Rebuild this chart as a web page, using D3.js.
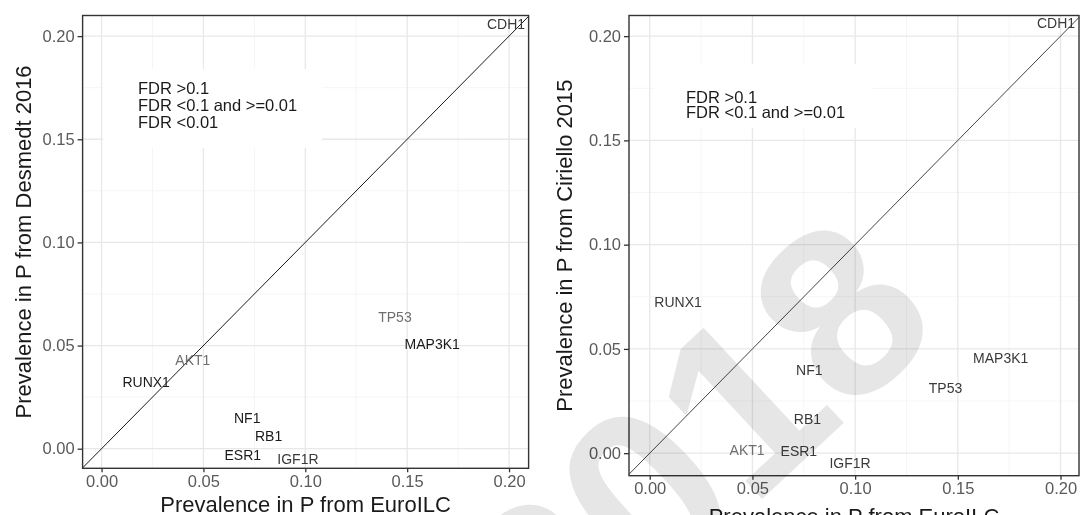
<!DOCTYPE html>
<html>
<head>
<meta charset="utf-8">
<script src="https://cdn.jsdelivr.net/npm/d3@7"></script>
<style>
  body { margin: 0; background: #fff; }
  svg { display: block; font-family: "Liberation Sans", Arial, sans-serif; }
</style>
</head>
<body>
<div id="wrapper"></div>
<script>
// gene labels, prevalence in P from EuroILC (x) vs. other cohorts (y)
const genes = ["CDH1", "TP53", "MAP3K1", "AKT1", "RUNX1", "NF1", "RB1", "ESR1", "IGF1R"]

const euroX_desmedt = [0.1985, 0.144, 0.1623, 0.0448, 0.0219, 0.0715, 0.082, 0.0693, 0.0964]
const desmedtY = [0.2059, 0.064, 0.0509, 0.0431, 0.0325, 0.0147, 0.006, -0.0029, -0.005]
const desmedtFdr = ["mid", "high", "low", "high", "low", "low", "low", "low", "mid"]

const euroX_ciriello = [0.1978, 0.144, 0.1709, 0.0474, 0.0138, 0.0777, 0.0768, 0.0726, 0.0975]
const cirielloY = [0.2062, 0.0311, 0.0455, 0.0016, 0.0725, 0.0397, 0.0162, 0.0012, -0.0047]
const cirielloFdr = ["mid", "mid", "mid", "high", "mid", "mid", "mid", "mid", "mid"]

const tickValues = [0, 0.05, 0.10, 0.15, 0.20]
const minorValues = [0.025, 0.075, 0.125, 0.175]

const legendDesmedt = ["FDR >0.1", "FDR <0.1 and >=0.01", "FDR <0.01"]
const legendCiriello = ["FDR >0.1", "FDR <0.1 and >=0.01"]

const xTitle = "Prevalence in P from EuroILC"
const yTitleDesmedt = "Prevalence in P from Desmedt 2016"
const yTitleCiriello = "Prevalence in P from Ciriello 2015"

const fdrColor = { high: "#6e6e6e", mid: "#3a3a3a", low: "#1a1a1a" }

const width = 1081
const height = 515

const svg = d3.select("#wrapper")
    .append("svg")
        .attr("width", width)
        .attr("height", height)

svg.append("rect")
    .attr("width", width)
    .attr("height", height)
    .attr("fill", "#fff")

function drawPanel(cfg) {
    const x = d3.scaleLinear().domain(cfg.xDomain).range([cfg.left, cfg.right])
    const y = d3.scaleLinear().domain(cfg.yDomain).range([cfg.bottom, cfg.top])

    const g = svg.append("g")

    // grid
    g.selectAll(".minx").data(minorValues).join("line")
        .attr("x1", d => x(d)).attr("x2", d => x(d))
        .attr("y1", cfg.top).attr("y2", cfg.bottom)
        .attr("stroke", "#f3f3f3").attr("stroke-width", 0.8)
    g.selectAll(".miny").data(minorValues).join("line")
        .attr("y1", d => y(d)).attr("y2", d => y(d))
        .attr("x1", cfg.left).attr("x2", cfg.right)
        .attr("stroke", "#f3f3f3").attr("stroke-width", 0.8)
    g.selectAll(".majx").data(tickValues).join("line")
        .attr("x1", d => x(d)).attr("x2", d => x(d))
        .attr("y1", cfg.top).attr("y2", cfg.bottom)
        .attr("stroke", "#e8e8e8").attr("stroke-width", 1.3)
    g.selectAll(".majy").data(tickValues).join("line")
        .attr("y1", d => y(d)).attr("y2", d => y(d))
        .attr("x1", cfg.left).attr("x2", cfg.right)
        .attr("stroke", "#e8e8e8").attr("stroke-width", 1.3)

    // legend box (keys are blank, only text shows)
    g.append("rect")
        .attr("x", cfg.legend.x).attr("y", cfg.legend.y)
        .attr("width", cfg.legend.w).attr("height", cfg.legend.h)
        .attr("fill", "#fff")
    g.selectAll(".leg").data(cfg.legendText).join("text")
        .attr("x", cfg.legend.tx)
        .attr("y", (d, i) => cfg.legend.ty + i * cfg.legend.step)
        .attr("dy", "0.35em")
        .attr("font-size", 16.5)
        .attr("fill", "#1a1a1a")
        .text(d => d)

    // y = x reference line
    const lo = Math.max(cfg.xDomain[0], cfg.yDomain[0])
    const hi = Math.min(cfg.xDomain[1], cfg.yDomain[1])
    g.append("line")
        .attr("x1", x(lo)).attr("y1", y(lo))
        .attr("x2", x(hi)).attr("y2", y(hi))
        .attr("stroke", cfg.lineColor).attr("stroke-width", 1)

    // gene labels
    g.selectAll(".gene").data(genes).join("text")
        .attr("x", (d, i) => x(cfg.xs[i]))
        .attr("y", (d, i) => y(cfg.ys[i]))
        .attr("dy", "0.35em")
        .attr("text-anchor", "middle")
        .attr("font-size", 14)
        .attr("fill", (d, i) => fdrColor[cfg.fdr[i]])
        .text(d => d)

    // border
    g.append("rect")
        .attr("x", cfg.left).attr("y", cfg.top)
        .attr("width", cfg.right - cfg.left).attr("height", cfg.bottom - cfg.top)
        .attr("fill", "none").attr("stroke", "#333").attr("stroke-width", 1.4)

    // axes
    const xAxis = g.append("g")
        .attr("transform", `translate(0,${cfg.bottom})`)
        .call(d3.axisBottom(x).tickValues(tickValues).tickFormat(d3.format(".2f"))
            .tickSizeOuter(0).tickSize(4).tickPadding(3))
    const yAxis = g.append("g")
        .attr("transform", `translate(${cfg.left},0)`)
        .call(d3.axisLeft(y).tickValues(tickValues).tickFormat(d3.format(".2f"))
            .tickSizeOuter(0).tickSize(5).tickPadding(3))
    for (const ax of [xAxis, yAxis]) {
        ax.select(".domain").remove()
        ax.selectAll(".tick line").attr("stroke", "#333").attr("stroke-width", 1.3)
        ax.selectAll(".tick text")
            .attr("fill", "#5a5a5a")
            .style("font-family", "'Liberation Sans', Arial, sans-serif")
            .style("font-size", "16.5px")
    }

    // titles
    g.append("text")
        .attr("x", (cfg.left + cfg.right) / 2)
        .attr("y", cfg.xTitleY)
        .attr("text-anchor", "middle")
        .attr("font-size", 22)
        .attr("fill", "#1a1a1a")
        .text(xTitle)
    g.append("text")
        .attr("transform", `translate(${cfg.yTitleX},${(cfg.top + cfg.bottom) / 2}) rotate(-90)`)
        .attr("text-anchor", "middle")
        .attr("font-size", 22)
        .attr("fill", "#1a1a1a")
        .text(cfg.yTitle)
}

drawPanel({
    left: 82.6, right: 528.6, top: 15.5, bottom: 468.3,
    xDomain: [-0.0093, 0.2096], yDomain: [-0.0095, 0.21],
    xs: euroX_desmedt, ys: desmedtY, fdr: desmedtFdr,
    legendText: legendDesmedt,
    legend: { x: 103, y: 69, w: 219, h: 79, tx: 138, ty: 88.5, step: 16.7 },
    lineColor: "#1a1a1a",
    xTitleY: 511.5, yTitleX: 31, yTitle: yTitleDesmedt
})

drawPanel({
    left: 629, right: 1079, top: 15.5, bottom: 475.7,
    xDomain: [-0.0101, 0.209], yDomain: [-0.0108, 0.2099],
    xs: euroX_ciriello, ys: cirielloY, fdr: cirielloFdr,
    legendText: legendCiriello,
    legend: { x: 654, y: 64, w: 219, h: 64, tx: 686, ty: 97, step: 15.5 },
    lineColor: "#444",
    xTitleY: 524, yTitleX: 572, yTitle: yTitleCiriello
})

// publisher watermark across the right panel
svg.append("text")
    .attr("transform", "translate(692,446) rotate(-43)")
    .attr("text-anchor", "middle")
    .attr("dy", "0.36em")
    .attr("font-size", 240)
    .attr("font-weight", "bold")
    .attr("fill", "#e6e6e6")
    .style("mix-blend-mode", "multiply")
    .text("2018")
</script>
</body>
</html>
